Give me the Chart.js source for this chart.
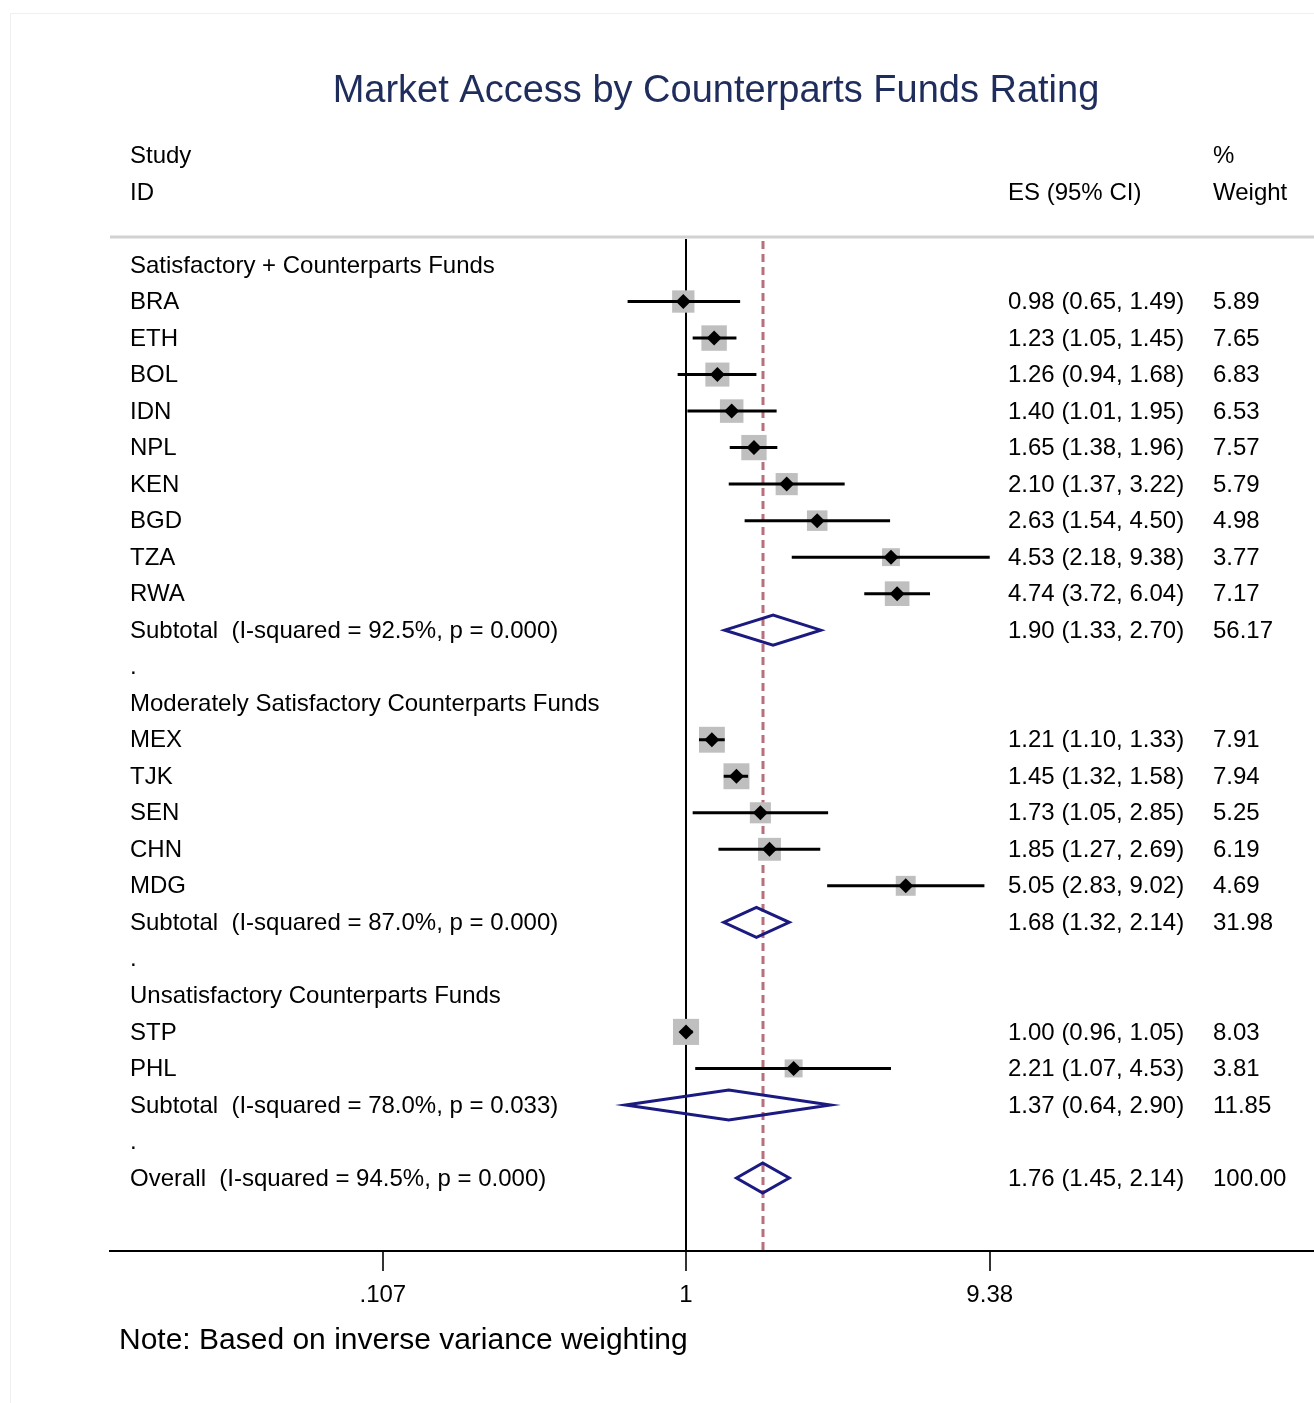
<!DOCTYPE html>
<html><head><meta charset="utf-8">
<script src="https://cdn.jsdelivr.net/npm/chart.js@4"></script>
<style>html,body{margin:0;padding:0;background:#fff;overflow:hidden}#c{display:block}</style>
</head><body><canvas id="c" width="1314" height="1403" style="width:1314px;height:1403px"></canvas>
<script>
// ---------- DATA ----------
const titleText = 'Market Access by Counterparts Funds Rating';
const noteText = 'Note: Based on inverse variance weighting';
const headerStudy = ['Study', 'ID'];
const headerES = 'ES (95% CI)';
const headerWeight = ['%', 'Weight'];

const rowLabels = [
  'Satisfactory + Counterparts Funds',
  'BRA','ETH','BOL','IDN','NPL','KEN','BGD','TZA','RWA',
  'Subtotal  (I-squared = 92.5%, p = 0.000)',
  '.',
  'Moderately Satisfactory Counterparts Funds',
  'MEX','TJK','SEN','CHN','MDG',
  'Subtotal  (I-squared = 87.0%, p = 0.000)',
  '.',
  'Unsatisfactory Counterparts Funds',
  'STP','PHL',
  'Subtotal  (I-squared = 78.0%, p = 0.033)',
  '.',
  'Overall  (I-squared = 94.5%, p = 0.000)'
];
const rowKinds = [
  'group',
  'study','study','study','study','study','study','study','study','study',
  'subtotal','blank',
  'group',
  'study','study','study','study','study',
  'subtotal','blank',
  'group',
  'study','study',
  'subtotal','blank',
  'overall'
];
const esValues = [null, 0.98,1.23,1.26,1.40,1.65,2.10,2.63,4.53,4.74, 1.90, null, null, 1.21,1.45,1.73,1.85,5.05, 1.68, null, null, 1.00,2.21, 1.37, null, 1.76];
const ciLower  = [null, 0.65,1.05,0.94,1.01,1.38,1.37,1.54,2.18,3.72, 1.33, null, null, 1.10,1.32,1.05,1.27,2.83, 1.32, null, null, 0.96,1.07, 0.64, null, 1.45];
const ciUpper  = [null, 1.49,1.45,1.68,1.95,1.96,3.22,4.50,9.38,6.04, 2.70, null, null, 1.33,1.58,2.85,2.69,9.02, 2.14, null, null, 1.05,4.53, 2.90, null, 2.14];
const weights  = [null, 5.89,7.65,6.83,6.53,7.57,5.79,4.98,3.77,7.17, 56.17, null, null, 7.91,7.94,5.25,6.19,4.69, 31.98, null, null, 8.03,3.81, 11.85, null, 100.00];

const tickValues = [0.107, 1, 9.38];
const tickLabels = ['.107', '1', '9.38'];

// ---------- STYLE ----------
const FONT = '"Liberation Sans", Arial, sans-serif';
const BOX_SCALE = 9.2;
const TEXT_DY = 1;
const overallRow = rowKinds.indexOf('overall');
const studyRows = rowKinds.map((k, i) => k === 'study' ? i : -1).filter(i => i >= 0);

const forestPlugin = {
  id: 'forest',
  beforeDatasetsDraw(chart) {
    const {ctx, chartArea: a, scales: {x}} = chart;
    ctx.save();
    ctx.strokeStyle = '#d2d2d2'; ctx.lineWidth = 3;
    ctx.beginPath(); ctx.moveTo(a.left, a.top); ctx.lineTo(a.right, a.top); ctx.stroke();
    const x1 = Math.round(x.getPixelForValue(1));
    ctx.strokeStyle = '#000'; ctx.lineWidth = 2;
    ctx.beginPath(); ctx.moveTo(x1, a.top + 2); ctx.lineTo(x1, a.bottom); ctx.stroke();
    const xo = Math.round(x.getPixelForValue(esValues[overallRow]));
    ctx.strokeStyle = '#b8717c'; ctx.lineWidth = 3; ctx.setLineDash([8, 5]);
    ctx.beginPath(); ctx.moveTo(xo, a.top + 4); ctx.lineTo(xo, a.bottom); ctx.stroke();
    ctx.restore();
  },
  afterDatasetDraw(chart, args) {
    if (args.index !== 1) return;
    const {ctx, scales: {x, y}} = chart;
    ctx.save();
    ctx.strokeStyle = '#000'; ctx.lineWidth = 3;
    studyRows.forEach(i => {
      const yy = y.getPixelForValue(i);
      ctx.beginPath();
      ctx.moveTo(x.getPixelForValue(ciLower[i]), yy);
      ctx.lineTo(x.getPixelForValue(ciUpper[i]), yy);
      ctx.stroke();
    });
    ctx.restore();
  },
  afterDatasetsDraw(chart) {
    const {ctx, scales: {x, y}} = chart;
    ctx.save();
    ctx.strokeStyle = '#1a1a80'; ctx.lineWidth = 3; ctx.lineJoin = 'miter';
    rowKinds.forEach((k, i) => {
      if (k !== 'subtotal' && k !== 'overall') return;
      const yc = y.getPixelForValue(i), h = 15;
      const xl = x.getPixelForValue(ciLower[i]), xc = x.getPixelForValue(esValues[i]), xr = x.getPixelForValue(ciUpper[i]);
      ctx.beginPath();
      ctx.moveTo(xl, yc); ctx.lineTo(xc, yc - h); ctx.lineTo(xr, yc); ctx.lineTo(xc, yc + h); ctx.closePath();
      ctx.stroke();
    });
    ctx.restore();
  },
  afterDraw(chart) {
    const {ctx, scales: {y}} = chart;
    ctx.save();
    // faint frame
    ctx.strokeStyle = '#f0f0f0'; ctx.lineWidth = 1;
    ctx.strokeRect(10.5, 13.5, 1400, 1500);
    // title
    ctx.font = '38px ' + FONT; ctx.fillStyle = '#1f2d5c';
    ctx.textAlign = 'center'; ctx.textBaseline = 'middle';
    ctx.fillText(titleText, 716, 92);
    // headers and rows
    ctx.font = '24px ' + FONT; ctx.fillStyle = '#000'; ctx.textAlign = 'left';
    const colLabel = 130, colES = 1008, colW = 1213;
    const ty = r => y.getPixelForValue(r) + TEXT_DY;
    ctx.fillText(headerStudy[0], colLabel, ty(-3));
    ctx.fillText(headerStudy[1], colLabel, ty(-2));
    ctx.fillText(headerES, colES, ty(-2));
    ctx.fillText(headerWeight[0], colW, ty(-3));
    ctx.fillText(headerWeight[1], colW, ty(-2));
    rowLabels.forEach((lab, i) => {
      const yy = ty(i);
      ctx.fillText(lab, colLabel, yy);
      if (esValues[i] != null) {
        ctx.fillText(esValues[i].toFixed(2) + ' (' + ciLower[i].toFixed(2) + ', ' + ciUpper[i].toFixed(2) + ')', colES, yy);
        ctx.fillText(weights[i].toFixed(2), colW, yy);
      }
    });
    // note
    ctx.font = '30px ' + FONT;
    ctx.fillText(noteText, 119, 1341);
    ctx.restore();
  }
};

new Chart(document.getElementById('c'), {
  type: 'scatter',
  data: {
    datasets: [
      {
        label: 'ES',
        data: studyRows.map(i => ({x: esValues[i], y: i})),
        pointStyle: 'rectRot', pointRadius: 7.5,
        pointBackgroundColor: '#000', pointBorderWidth: 0, backgroundColor: '#000', borderWidth: 0
      },
      {
        label: 'Weight',
        data: studyRows.map(i => ({x: esValues[i], y: i, w: weights[i]})),
        pointStyle: 'rect',
        pointRadius: ctx => BOX_SCALE * Math.sqrt(ctx.raw.w) / Math.SQRT2,
        pointBackgroundColor: '#bfbfbf', pointBorderWidth: 0, backgroundColor: '#bfbfbf', borderWidth: 0
      }
    ]
  },
  options: {
    responsive: false, maintainAspectRatio: false, animation: false, events: [], devicePixelRatio: 1,
    layout: {autoPadding: false, padding: {left: 110, right: 0, top: 237, bottom: 72}},
    plugins: {legend: {display: false}, tooltip: {enabled: false}, title: {display: false}},
    scales: {
      x: {
        type: 'logarithmic', min: 0.01432, max: 102.4, bounds: 'data',
        afterBuildTicks: s => { s.ticks = tickValues.map(v => ({value: v})); },
        afterFit: s => { s.height = 80; s.paddingLeft = 0; s.paddingRight = 0; },
        ticks: {
          callback: (v, i) => tickLabels[i],
          font: {family: FONT, size: 24}, color: '#000', padding: 10,
          autoSkip: false, maxRotation: 0, minRotation: 0
        },
        grid: {display: true, drawOnChartArea: false, drawTicks: true, tickLength: 20, color: '#333', lineWidth: 2},
        border: {display: true, color: '#000', width: 2}
      },
      y: {type: 'linear', min: -0.767, max: 27, reverse: true, display: false}
    }
  },
  plugins: [forestPlugin]
});
</script>
</body></html>
